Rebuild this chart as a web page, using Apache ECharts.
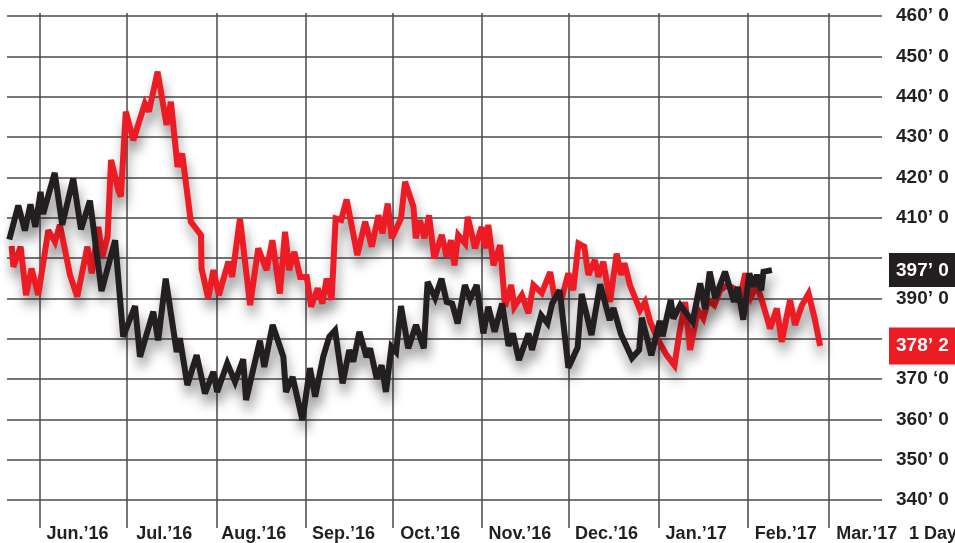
<!DOCTYPE html>
<html>
<head>
<meta charset="utf-8">
<script src="https://cdn.jsdelivr.net/npm/echarts@6/dist/echarts.min.js"></script>
<style>
html,body{margin:0;padding:0;background:#fff;}
#chart{width:955px;height:543px;}
</style>
</head>
<body>
<div id="chart"></div>
<script>
// x values: days since 1 June 2016
const monthStarts = [0, 30, 61, 92, 122, 153, 183, 214, 245, 273];
const monthLabels = ['Jun.’16','Jul.’16','Aug.’16','Sep.’16','Oct.’16','Nov.’16','Dec.’16','Jan.’17','Feb.’17','Mar.’17'];
const yTickLabels = {460:'460’ 0',450:'450’ 0',440:'440’ 0',430:'430’ 0',420:'420’ 0',410:'410’ 0',400:'',390:'390’ 0',380:'',370:'370 ‘0',360:'360’ 0',350:'350’ 0',340:'340’ 0'};
const periodLabel = '1 Day';

const blackDays = [-10.6,-7.5,-5.2,-3.3,-1.6,0.2,1.1,5.1,7.7,11.5,
14.2,17.3,21.3,26.0,28.8,32.9,34.6,39.2,40.9,43.5,
47.3,48.4,51.0,54.2,57.1,60.0,61.3,64.8,67.5,70.3,
71.3,76.1,77.6,80.5,84.2,85.1,87.4,90.8,93.4,95.2,
98.0,100.1,102.1,104.7,107.0,108.4,110.5,113.0,114.2,116.5,
118.2,119.7,121.6,123.2,124.9,127.4,130.1,132.8,134.1,136.7,
138.9,140.7,142.6,144.5,147.0,148.8,151.1,153.4,155.1,157.3,
159.9,162.1,163.6,165.7,169.0,170.2,173.4,175.6,177.2,179.8,
182.8,186.0,187.4,190.8,193.8,197.1,198.4,201.0,204.8,207.3,
208.2,211.5,214.4,215.4,218.2,219.1,221.5,225.8,228.4,230.1,
231.7,233.6,237.0,240.1,241.4,243.3,245.4,246.8,248.0,249.5,
250.3,253.2];
const blackValues = [404.6,413.0,406.8,413.3,407.7,416.4,410.9,421.1,408.2,419.7,
407.1,414.2,391.8,404.4,380.5,388.1,375.5,386.7,379.6,394.9,
376.7,380.1,368.5,375.9,366.4,371.8,366.8,373.9,369.3,374.9,
364.8,379.5,373.0,383.4,375.5,366.8,370.5,359.8,372.7,365.6,
375.5,380.5,382.1,368.9,377.2,374.3,381.7,375.4,377.6,370.1,
373.4,366.8,378.0,376.7,388.1,377.6,383.4,377.6,394.1,390.1,
394.9,389.1,388.7,383.8,393.3,389.8,393.3,381.3,387.9,381.7,
388.7,378.2,381.3,374.7,381.3,377.2,385.8,383.8,388.7,392.0,
372.8,377.8,391.1,380.9,393.5,384.6,387.6,381.1,375.2,377.2,
385.2,375.9,384.4,380.6,389.6,385.0,388.3,384.2,393.7,387.3,
396.6,390.0,396.6,389.1,392.8,384.7,396.2,392.9,395.8,392.0,
396.6,397.0];

const redDays = [-9.8,-9.2,-6.7,-4.8,-2.9,-0.6,2.9,5.2,6.9,10.4,
12.9,16.4,17.9,20.2,21.6,23.4,24.6,27.1,28.0,29.7,
32.3,36.3,37.7,40.7,43.8,45.3,47.6,49.2,52.2,55.7,
55.9,58.2,60.0,61.9,65.2,66.5,69.2,72.7,75.5,78.4,
80.4,83.0,84.8,86.2,88.0,90.0,92.3,93.8,96.1,97.7,
99.2,100.9,102.3,104.2,106.1,109.8,112.5,114.8,117.1,118.5,
120.3,121.7,124.9,126.3,129.2,130.0,131.5,133.0,134.6,136.4,
139.0,140.7,142.2,143.4,144.7,147.1,148.0,150.5,152.8,154.0,
155.1,156.9,159.2,160.9,163.0,164.1,166.7,169.0,170.7,173.6,
176.5,178.0,180.5,182.8,184.5,186.3,188.3,189.7,192.0,193.2,
194.9,197.2,199.5,201.0,202.2,204.1,207.6,209.3,211.1,213.9,
216.8,219.5,221.1,223.2,224.9,227.6,229.5,231.2,233.3,235.3,
237.7,239.9,241.9,244.0,246.0,248.0,249.9,252.6,254.9,256.6,
259.5,261.2,263.6,265.9,268.0,269.9];
const redValues = [403.0,397.8,402.8,390.8,397.4,390.8,406.9,404.0,408.2,395.8,
390.4,402.8,396.2,407.7,400.3,405.3,424.3,416.8,415.2,436.3,
429.2,438.3,436.3,446.2,433.0,438.7,422.6,425.9,409.0,405.7,
397.4,390.0,397.0,390.8,399.1,395.3,409.8,388.3,402.4,397.0,
404.4,391.2,406.5,397.0,401.5,395.3,395.3,387.9,392.5,388.7,
394.9,389.6,409.8,409.4,414.5,400.7,409.0,402.8,410.6,406.1,
413.5,404.9,409.8,418.9,412.7,404.9,409.4,404.9,410.6,399.9,
405.7,400.3,404.4,398.2,405.7,403.6,410.2,402.4,407.7,402.4,
408.2,398.2,403.2,387.9,393.3,387.9,390.8,386.3,393.3,391.3,
396.5,390.4,390.0,396.2,392.0,403.6,402.8,395.8,399.5,395.3,
399.1,389.1,401.1,395.8,398.7,393.3,387.1,389.1,384.2,379.6,
375.9,373.4,380.9,389.1,377.2,387.1,385.0,389.6,388.3,392.0,
393.3,392.5,389.1,396.2,390.4,393.3,389.1,382.5,387.5,379.2,
389.6,383.4,388.3,391.2,385.0,378.2];

const lastValues = [397.0, 378.2];
const lastTexts = ['397’ 0', '378’ 2'];
const lastStyles = ['k', 'r'];

const zip = (xs, ys) => xs.map((x, i) => [x, ys[i]]);
const labelDays = monthStarts.map(d => d + 13);

const FONT = '"Liberation Sans", Arial, Helvetica, sans-serif';
const GRID_COLOR = '#4a4a4a';
const BLACK = '#231f20';
const RED = '#ed1c24';

const chart = echarts.init(document.getElementById('chart'), null, {renderer: 'canvas'});

const lineShadow = {shadowColor: 'rgba(0,0,0,0.42)', shadowBlur: 12, shadowOffsetX: 2, shadowOffsetY: 10};
const tagFont = {fontFamily: FONT, fontWeight: 'bold', fontSize: 19, color: '#fff', lineHeight: 19};

chart.setOption({
  animation: false,
  backgroundColor: '#ffffff',
  grid: {left: 7, right: 73, top: 16, bottom: 43, containLabel: false, outerBoundsMode: 'none'},
  xAxis: [{
    type: 'value', min: -11.4, max: 291.3,
    axisLine: {show: false},
    axisTick: {show: true, inside: false, length: 28, customValues: monthStarts,
      lineStyle: {color: GRID_COLOR, width: 1.5}},
    splitLine: {show: true, lineStyle: {color: GRID_COLOR, width: 1.5}},
    axisLabel: {show: true, customValues: labelDays, margin: 25,
      fontFamily: FONT, fontWeight: 'bold', fontSize: 18, color: BLACK,
      formatter: v => { const i = labelDays.indexOf(v); return i >= 0 ? monthLabels[i] : ''; }}
  }, {
    type: 'value', min: -11.4, max: 291.3, position: 'top',
    axisLine: {show: false},
    axisTick: {show: true, inside: false, length: 3, customValues: monthStarts,
      lineStyle: {color: GRID_COLOR, width: 1.5}},
    splitLine: {show: false},
    axisLabel: {show: false}
  }],
  yAxis: [{
    type: 'value', position: 'right', min: 340, max: 460, interval: 10,
    axisLine: {show: false}, axisTick: {show: false},
    splitLine: {show: true, lineStyle: {color: GRID_COLOR, width: 1.5}},
    axisLabel: {margin: 14, fontFamily: FONT, fontWeight: 'bold', fontSize: 19, color: BLACK,
      formatter: v => (yTickLabels[v] !== undefined ? yTickLabels[v] : '')}
  }, {
    type: 'value', position: 'right', min: 340, max: 460,
    axisLine: {show: false}, axisTick: {show: false}, splitLine: {show: false},
    axisLabel: {show: true, margin: 7, customValues: lastValues,
      formatter: v => { const i = lastValues.indexOf(v); return i >= 0 ? '{' + lastStyles[i] + '|' + lastTexts[i] + '}' : ''; },
      rich: {
        k: Object.assign({backgroundColor: BLACK, padding: [8, 7, 7, 7]}, tagFont),
        r: Object.assign({backgroundColor: RED, padding: [9, 8, 9, 7]}, tagFont)
      }}
  }],
  graphic: [{
    type: 'text', left: 909, top: 525,
    style: {text: periodLabel, font: 'bold 18px ' + FONT, fill: BLACK}
  }],
  series: [{
    name: 'red', type: 'line', data: zip(redDays, redValues),
    showSymbol: false, symbol: 'none', z: 3,
    lineStyle: Object.assign({color: RED, width: 6, join: 'miter', miterLimit: 3}, lineShadow)
  }, {
    name: 'black', type: 'line', data: zip(blackDays, blackValues),
    showSymbol: false, symbol: 'none', z: 4,
    lineStyle: Object.assign({color: BLACK, width: 6, join: 'miter', miterLimit: 3}, lineShadow)
  }]
});
</script>
</body>
</html>
